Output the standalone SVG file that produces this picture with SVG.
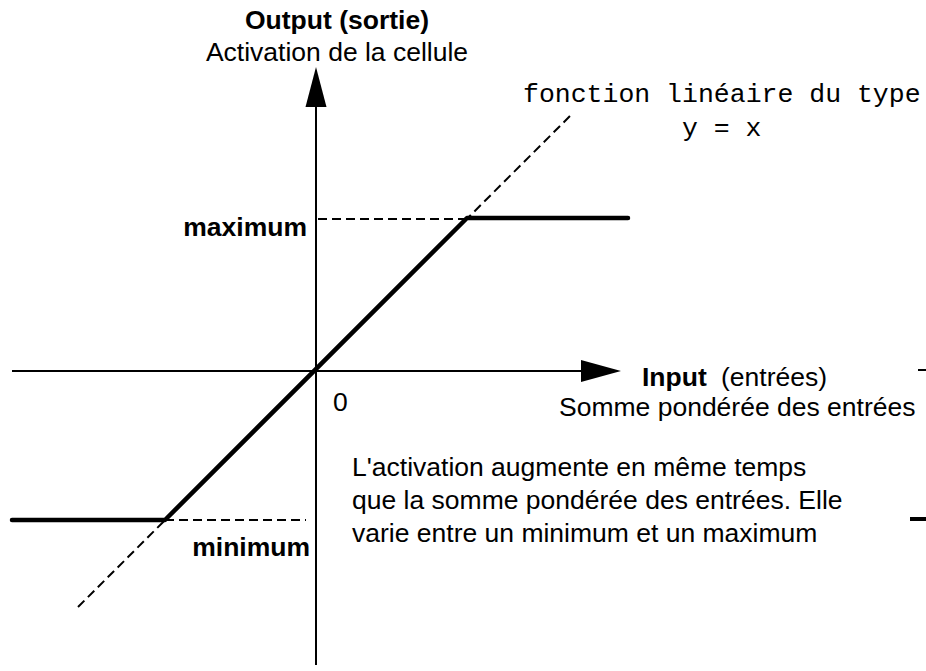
<svg xmlns="http://www.w3.org/2000/svg" width="926" height="671" viewBox="0 0 926 671">
<style>
.t{font-family:"Liberation Sans",Arial,sans-serif;font-size:26.5px;fill:#000}
.b{font-weight:bold}
.m{font-family:"Liberation Mono","Courier New",monospace;font-size:26.5px;fill:#000}
.ax{stroke:#000;stroke-width:2;fill:none}
.th{stroke:#000;stroke-width:4.5;fill:none;stroke-linecap:round;stroke-linejoin:round}
.d{stroke:#000;stroke-width:2;fill:none;stroke-dasharray:9,5}
</style>
<rect width="926" height="671" fill="#fff"/>
<g id="connectors">
<line class="d" x1="78" y1="607" x2="570" y2="116"/>
<line class="d" x1="318" y1="219" x2="467" y2="219"/>
<line class="d" x1="165" y1="520" x2="306" y2="520"/>
</g>
<g id="y-axis">
<line class="ax" x1="316" y1="665" x2="316" y2="100"/>
<polygon points="316,67 305.5,107 326.5,107" fill="#000"/>
</g>
<g id="x-axis">
<line class="ax" x1="12" y1="371" x2="585" y2="371"/>
<polygon points="621,371 581,360 581,382" fill="#000"/>
</g>
<g id="curve">
<polyline class="th" points="12,520 165,520 467,218 628,218"/>
</g>
<g id="marks">
<line stroke="#000" stroke-width="2" x1="918" y1="370" x2="926" y2="370"/>
<line stroke="#000" stroke-width="4" x1="910" y1="519" x2="926" y2="519"/>
</g>
<g id="label-output">
<text class="t b" x="337" y="29" text-anchor="middle">Output (sortie)</text>
<text class="t" x="337" y="61" text-anchor="middle">Activation de la cellule</text>
</g>
<g id="label-function">
<text class="m" x="523" y="102">fonction linéaire du type</text>
<text class="m" x="682" y="136">y = x</text>
</g>
<g id="label-max"><text class="t b" x="307" y="236" text-anchor="end">maximum</text></g>
<g id="label-min"><text class="t b" x="310" y="556" text-anchor="end">minimum</text></g>
<g id="label-zero"><text class="t" x="333" y="411">0</text></g>
<g id="label-input">
<text class="t" x="642" y="386"><tspan class="b">Input</tspan><tspan x="721">(entrées)</tspan></text>
<text class="t" x="559" y="416">Somme pondérée des entrées</text>
</g>
<g id="label-note">
<text class="t" x="352" y="476">L'activation augmente en même temps</text>
<text class="t" x="352" y="509">que la somme pondérée des entrées. Elle</text>
<text class="t" x="352" y="542">varie entre un minimum et un maximum</text>
</g>
</svg>
